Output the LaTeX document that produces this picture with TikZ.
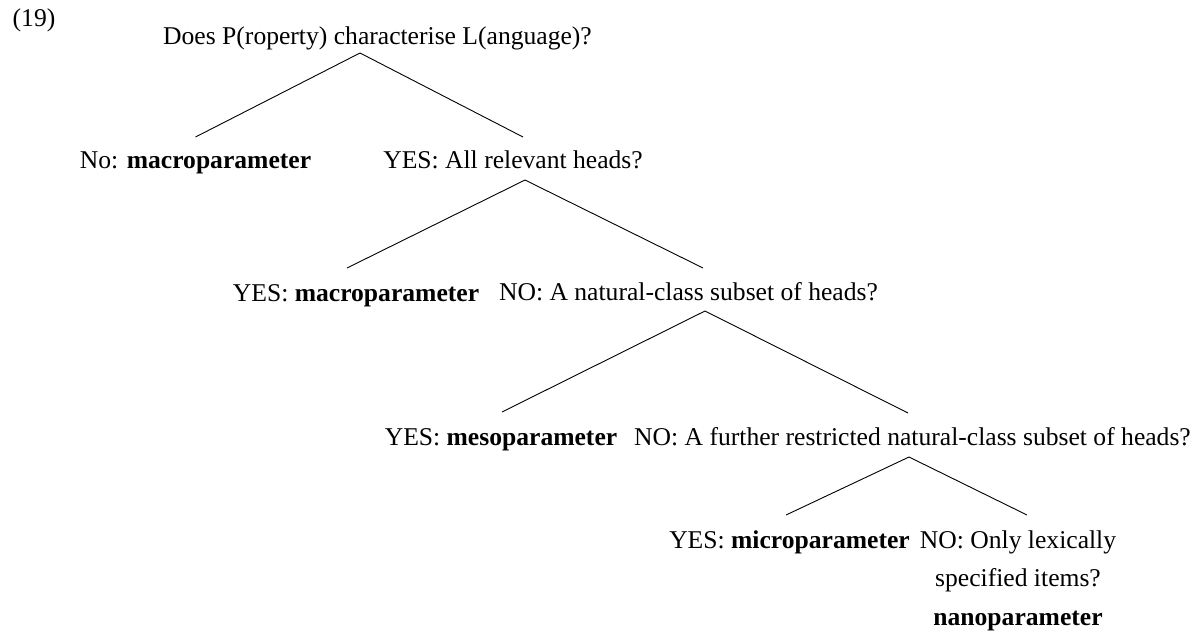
\documentclass[tikz,border=0pt]{standalone}
\usepackage{fontspec}
\setmainfont{Liberation Serif}
\begin{document}
\begin{tikzpicture}[x=1pt,y=-1pt,
  lbl/.style={anchor=base,inner sep=0pt,font=\fontsize{25.6}{38.5}\selectfont},
  edge/.style={line width=0.9pt,black}]
\useasboundingbox (0,0) rectangle (1190,630);
\node[lbl] (ex) at (34,26) {(19)};
\node[lbl] (root) at (377.5,44) {Does P(roperty) characterise L(anguage)?};
\node[lbl] (a1) at (195.5,168) {No: \textbf{macroparameter}};
\node[lbl] (a2) at (513,168) {YES: All relevant heads?};
\node[lbl] (b1) at (356,301) {YES: \textbf{macroparameter}};
\node[lbl] (b2) at (688.5,300) {NO: A natural-class subset of heads?};
\node[lbl] (c1) at (501,445) {YES: \textbf{mesoparameter}};
\node[lbl] (c2) at (912.5,445) {NO: A further restricted natural-class subset of heads?};
\node[lbl] (d1) at (789.5,548) {YES: \textbf{microparameter}};
\node[lbl,align=center] (d2) at (1018,625) {NO: Only lexically\\specified items?\\\textbf{nanoparameter}};
\draw[edge] ([shift={(0,-31)}]a1.base) -- ([shift={(-17.5,9)}]root.base) -- ([shift={(10,-31)}]a2.base);
\draw[edge] ([shift={(-9,-33)}]b1.base) -- ([shift={(12,12)}]a2.base) -- ([shift={(14.5,-32)}]b2.base);
\draw[edge] ([shift={(1,-33)}]c1.base) -- ([shift={(16.5,11)}]b2.base) -- ([shift={(-4.5,-32)}]c2.base);
\draw[edge] ([shift={(-3.5,-33)}]d1.base) -- ([shift={(-3.5,12)}]c2.base) -- ([shift={(9,-110)}]d2.base);
\end{tikzpicture}
\end{document}
